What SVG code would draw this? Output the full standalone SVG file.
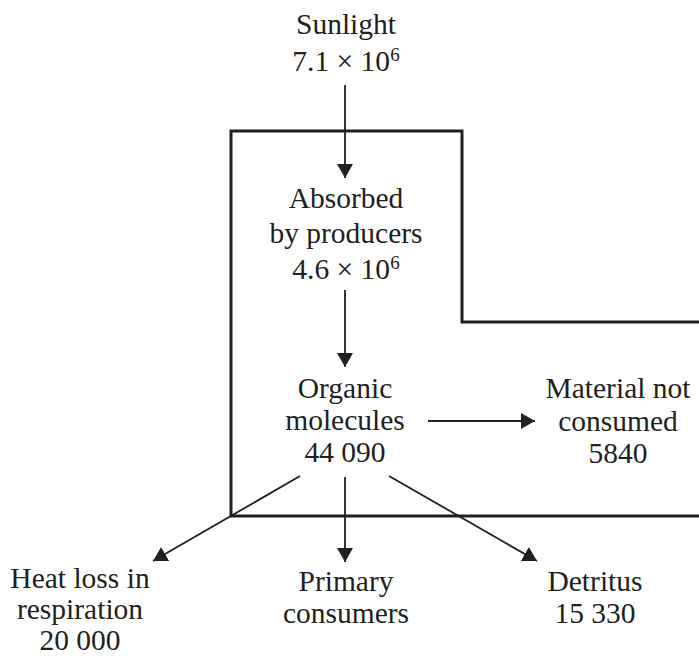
<svg xmlns="http://www.w3.org/2000/svg" width="699" height="657" viewBox="0 0 699 657">
<style>
text{font-family:"Liberation Serif","Times New Roman",serif;font-size:29.5px;fill:#231f20;text-anchor:middle}
.sup{font-size:19px}
.outline{fill:none;stroke:#231f20;stroke-width:3}
.conn{fill:none;stroke:#231f20;stroke-width:1.8}
</style>
<defs>
<marker id="ah" markerUnits="userSpaceOnUse" markerWidth="16" markerHeight="16" refX="14" refY="8" orient="auto">
<path d="M0,0 L14,8 L0,16 z" fill="#231f20"/>
</marker>
</defs>
<rect width="699" height="657" fill="#fff"/>
<g id="boundary"><path class="outline" d="M699,322 H462 V131 H231 V516 H699"/></g>
<g id="connectors">
<line class="conn" x1="345" y1="85" x2="345" y2="178" marker-end="url(#ah)"/>
<line class="conn" x1="345" y1="290" x2="345" y2="367" marker-end="url(#ah)"/>
<line class="conn" x1="428" y1="421" x2="535" y2="421" marker-end="url(#ah)"/>
<line class="conn" x1="300" y1="476" x2="153" y2="561" marker-end="url(#ah)"/>
<line class="conn" x1="345" y1="477" x2="345" y2="562" marker-end="url(#ah)"/>
<line class="conn" x1="389" y1="476" x2="537" y2="561" marker-end="url(#ah)"/>
</g>
<g id="sunlight"><text x="346" y="34">Sunlight</text><text x="346" y="71">7.1 × 10<tspan class="sup" dy="-10">6</tspan></text></g>
<g id="absorbed"><text x="346" y="208">Absorbed</text><text x="346" y="243">by producers</text><text x="346" y="279">4.6 × 10<tspan class="sup" dy="-10">6</tspan></text></g>
<g id="organic"><text x="345" y="398">Organic</text><text x="345" y="430">molecules</text><text x="345" y="462">44 090</text></g>
<g id="material"><text x="618" y="398">Material not</text><text x="618" y="431">consumed</text><text x="618" y="463">5840</text></g>
<g id="heat"><text x="80" y="588">Heat loss in</text><text x="80" y="619">respiration</text><text x="80" y="650">20 000</text></g>
<g id="primary"><text x="346" y="591">Primary</text><text x="346" y="623">consumers</text></g>
<g id="detritus"><text x="595" y="591">Detritus</text><text x="595" y="623">15 330</text></g>
</svg>
